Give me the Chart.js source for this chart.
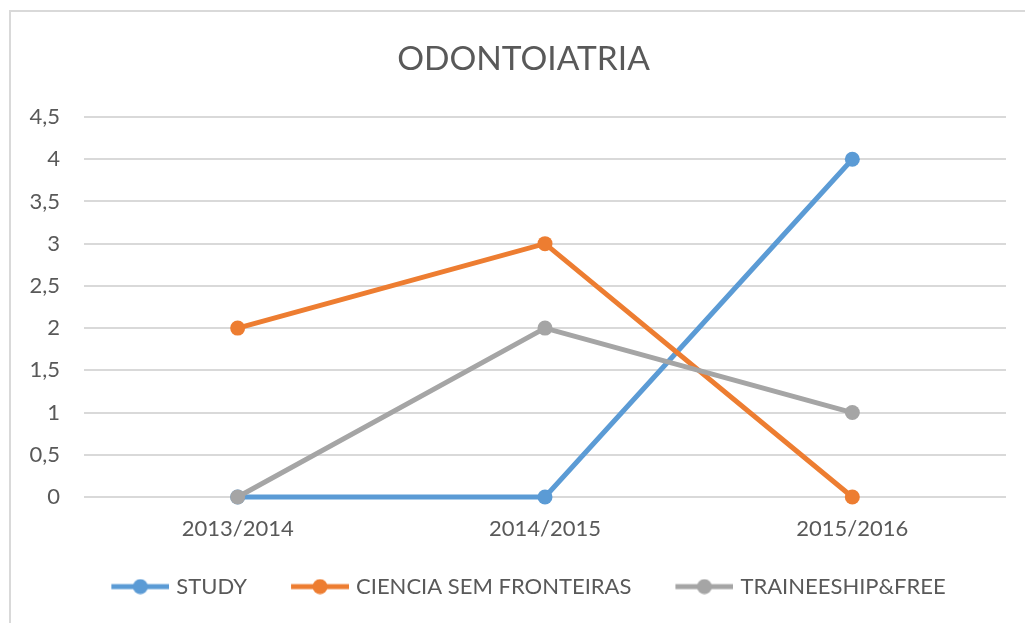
<!DOCTYPE html>
<html>
<head>
<meta charset="utf-8">
<script src="https://cdn.jsdelivr.net/npm/chart.js@4"></script>
<style>
  html, body { margin: 0; padding: 0; background: #fff; }
  #wrap { position: relative; width: 1025px; height: 623px; overflow: hidden; }
  #frame { position: absolute; left: 9px; top: 10px; width: 1100px; height: 700px;
           border-left: 2px solid #d9d9d9; border-top: 2px solid #d9d9d9; }
  #chart { position: absolute; left: 0; top: 0; }
</style>
</head>
<body>
<div id="wrap">
  <div id="frame"></div>
  <canvas id="chart" width="1025" height="623"></canvas>
</div>
<script>
const years = ['2013/2014', '2014/2015', '2015/2016'];
const study = [0, 0, 4];
const ciencia = [2, 3, 0];
const traineeship = [0, 2, 1];
const yTicks = [0, 0.5, 1, 1.5, 2, 2.5, 3, 3.5, 4, 4.5];

const BLUE = '#5B9BD5', ORANGE = '#ED7D31', GREY = '#A5A5A5';
const TEXT = '#595959', GRID = '#D9D9D9';
const FONT = 'Lato, "Open Sans", sans-serif';

// legend icon: empty room on the left (item spacing), then a line with a dot
function legendIcon(color) {
  const c = document.createElement('canvas');
  c.width = 90; c.height = 16;
  const g = c.getContext('2d');
  g.strokeStyle = color;
  g.lineWidth = 5;
  g.beginPath(); g.moveTo(32, 8); g.lineTo(90, 8); g.stroke();
  g.fillStyle = color;
  g.beginPath(); g.arc(61, 8, 7.5, 0, Math.PI * 2); g.fill();
  return c;
}
const icons = [legendIcon(BLUE), legendIcon(ORANGE), legendIcon(GREY)];

function serie(label, data, color, order) {
  return {
    label: label,
    data: data,
    borderColor: color,
    backgroundColor: color,
    borderWidth: 5,
    pointRadius: 7.5,
    pointHoverRadius: 7.5,
    pointBorderWidth: 0,
    pointBackgroundColor: color,
    tension: 0,
    clip: false,
    order: order
  };
}

// the legend icons carry blank room on their left, move the legend back a bit
const legendShift = {
  id: 'legendShift',
  afterLayout(chart) {
    if (chart.legend) chart.legend.left -= 18;
  }
};

new Chart(document.getElementById('chart'), {
  type: 'line',
  data: {
    labels: years,
    datasets: [
      serie('STUDY', study, BLUE, 3),
      serie('CIENCIA SEM FRONTEIRAS', ciencia, ORANGE, 2),
      serie('TRAINEESHIP&FREE', traineeship, GREY, 1)
    ]
  },
  options: {
    responsive: false,
    animation: false,
    layout: { padding: { top: 0, left: 22, right: 0, bottom: 15.4 } },
    plugins: {
      tooltip: { enabled: false },
      title: {
        display: true,
        text: 'ODONTOIATRIA',
        color: TEXT,
        font: { family: FONT, size: 33.5, weight: 'normal' },
        padding: { top: 39, bottom: 37.8 }
      },
      legend: {
        position: 'bottom',
        labels: {
          usePointStyle: true,
          pointStyleWidth: 82,
          padding: 16,
          color: TEXT,
          font: { family: FONT, size: 22 },
          sort: (a, b) => a.datasetIndex - b.datasetIndex,
          generateLabels: (chart) => {
            const items = Chart.defaults.plugins.legend.labels.generateLabels(chart);
            items.forEach(it => { it.pointStyle = icons[it.datasetIndex]; });
            return items;
          }
        }
      }
    },
    scales: {
      x: {
        offset: true,
        grid: { display: false },
        border: { display: false },
        ticks: { color: TEXT, font: { family: FONT, size: 22 }, padding: 11 },
        afterFit: (s) => { s.height = 62.6; }
      },
      y: {
        min: 0,
        max: 4.5,
        afterBuildTicks: (s) => { s.ticks = yTicks.map(v => ({ value: v })); },
        grid: { color: GRID, lineWidth: 2, drawTicks: false },
        border: { display: false },
        ticks: {
          color: TEXT,
          font: { family: FONT, size: 22 },
          padding: 24,
          callback: (v) => String(v).replace('.', ',')
        },
        afterFit: (s) => { s.width = 62; }
      },
      yRight: {
        position: 'right',
        display: true,
        grid: { display: false },
        border: { display: false },
        ticks: { display: false },
        afterFit: (s) => { s.width = 19; }
      }
    }
  },
  plugins: [legendShift]
});
</script>
</body>
</html>
